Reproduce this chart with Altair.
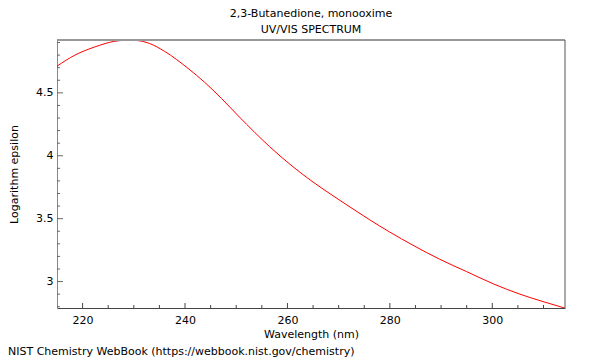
import altair as alt
import pandas as pd

# Spectrum readings (wavelength nm, log epsilon)
WAVELENGTH = [215.0, 218.5, 222.4, 226.3, 228.5, 230.2, 233.1, 236.0, 240.6, 243.8,
              247.1, 250.4, 253.6, 256.5, 261.1, 265.0, 268.9, 272.8, 276.1, 280.0,
              284.5, 289.7, 295.0, 300.2, 305.4, 309.9, 314.2]
LOG_EPS = [4.712, 4.80, 4.865, 4.91, 4.918, 4.917, 4.892, 4.83, 4.694, 4.585,
           4.456, 4.317, 4.186, 4.073, 3.912, 3.791, 3.682, 3.577, 3.490, 3.393,
           3.289, 3.178, 3.079, 2.982, 2.90, 2.841, 2.789]

X_MAJOR = [220, 240, 260, 280, 300]
X_MINOR = [225, 230, 235, 245, 250, 255, 265, 270, 275, 285, 290, 295, 305, 310]
Y_MAJOR = [3.0, 3.5, 4.0, 4.5]
Y_MINOR = [2.8, 2.9, 3.1, 3.2, 3.3, 3.4, 3.6, 3.7, 3.8, 3.9, 4.1, 4.2, 4.3, 4.4, 4.6, 4.7, 4.8, 4.9]

TITLE = "2,3-Butanedione, monooxime"
SUBTITLE = "UV/VIS SPECTRUM"
FOOTER = "NIST Chemistry WebBook (https://webbook.nist.gov/chemistry)"

W, H = 508, 268
X_DOM = [215, 314.2]
Y_DOM = [2.79, 4.92]
FONT = "DejaVu Sans"

df = pd.DataFrame({"wl": WAVELENGTH, "le": LOG_EPS})
xs = alt.Scale(domain=X_DOM, nice=False, zero=False)
ys = alt.Scale(domain=Y_DOM, nice=False, zero=False)

line = alt.Chart(df).mark_line(color="#ff0000", strokeWidth=1, interpolate="monotone", clip=True).encode(
    x=alt.X("wl:Q", scale=xs, title="Wavelength (nm)",
            axis=alt.Axis(values=X_MAJOR, format="d", tickSize=0, labelPadding=6, grid=False,
                          domainColor="#444444", labelFont=FONT, labelFontSize=11, labelColor="black",
                          titleFont=FONT, titleFontSize=11, titleFontWeight="normal", titleColor="black",
                          titlePadding=3)),
    y=alt.Y("le:Q", scale=ys, title="Logarithm epsilon",
            axis=alt.Axis(values=Y_MAJOR, format="~g", tickSize=0, labelPadding=4, grid=False,
                          domainColor="#888888", labelFont=FONT, labelFontSize=11, labelColor="black",
                          titleFont=FONT, titleFontSize=11, titleFontWeight="normal", titleColor="black",
                          titlePadding=16)),
)

def xticks(vals, length):
    return alt.Chart(pd.DataFrame({"v": vals})).mark_rule(color="#444444", strokeWidth=1).encode(
        x=alt.X("v:Q", scale=xs), y=alt.value(H), y2=alt.value(H - length))

def yticks(vals, length):
    return alt.Chart(pd.DataFrame({"v": vals})).mark_rule(color="#666666", strokeWidth=1).encode(
        y=alt.Y("v:Q", scale=ys), x=alt.value(0), x2=alt.value(length))

top_border = alt.Chart(pd.DataFrame({"a": [0]})).mark_rule(color="#999999", strokeWidth=2).encode(
    x=alt.value(0), x2=alt.value(W), y=alt.value(0))
right_border = alt.Chart(pd.DataFrame({"a": [0]})).mark_rule(color="#555555", strokeWidth=1).encode(
    x=alt.value(W), y=alt.value(0), y2=alt.value(H))

title_t = alt.Chart(pd.DataFrame({"t": [TITLE]})).mark_text(font=FONT, fontSize=11, color="black",
                                                            align="center", baseline="middle").encode(
    text="t:N", x=alt.value(W / 2), y=alt.value(-26))
sub_t = alt.Chart(pd.DataFrame({"t": [SUBTITLE]})).mark_text(font=FONT, fontSize=11, color="black",
                                                             align="center", baseline="middle").encode(
    text="t:N", x=alt.value(W / 2), y=alt.value(-10))
foot_t = alt.Chart(pd.DataFrame({"t": [FOOTER]})).mark_text(font=FONT, fontSize=11, color="black",
                                                            align="left", baseline="middle").encode(
    text="t:N", x=alt.value(-49), y=alt.value(H + 44))

chart = alt.layer(
    xticks(X_MINOR, 3), xticks(X_MAJOR, 5), yticks(Y_MINOR, 3), yticks(Y_MAJOR, 6),
    line, top_border, right_border, title_t, sub_t, foot_t
).properties(
    width=W, height=H,
    autosize=alt.AutoSizeParams(type="none"),
    padding={"left": 49, "top": 32, "right": 20, "bottom": 52},
).configure_view(stroke=None)

chart.save("out.html", embed_options={"renderer": "svg", "actions": False})
